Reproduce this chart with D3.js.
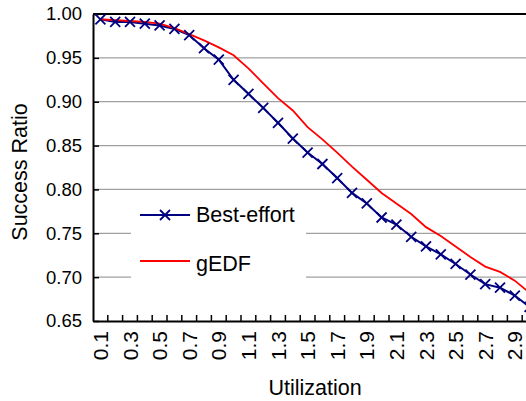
<!DOCTYPE html>
<html>
<head>
<meta charset="utf-8">
<script src="https://cdn.jsdelivr.net/npm/d3@7"></script>
<style>
  html, body { margin: 0; padding: 0; background: #fff; overflow: hidden; }
  svg { display: block; font-family: "Liberation Sans", Arial, sans-serif; }
</style>
</head>
<body>
<svg id="chart" width="526" height="401"></svg>
<script>
const categories = ["0.1","0.2","0.3","0.4","0.5","0.6","0.7","0.8","0.9","1.0",
  "1.1","1.2","1.3","1.4","1.5","1.6","1.7","1.8","1.9","2.0",
  "2.1","2.2","2.3","2.4","2.5","2.6","2.7","2.8","2.9","3.0"];
const xTickLabels = ["0.1","0.3","0.5","0.7","0.9","1.1","1.3","1.5","1.7","1.9","2.1","2.3","2.5","2.7","2.9"];
const yTicks = [0.65, 0.70, 0.75, 0.80, 0.85, 0.90, 0.95, 1.00];
const bestEffort = [0.994,0.991,0.991,0.989,0.987,0.983,0.976,0.961,0.948,0.925,
  0.909,0.893,0.876,0.858,0.842,0.829,0.813,0.796,0.784,0.768,
  0.760,0.746,0.735,0.726,0.715,0.703,0.692,0.688,0.679,0.666];
const gEDF = [0.994,0.993,0.992,0.991,0.989,0.984,0.977,0.970,0.962,0.953,
  0.938,0.921,0.904,0.890,0.871,0.857,0.842,0.826,0.811,0.796,
  0.784,0.772,0.757,0.747,0.735,0.723,0.712,0.706,0.696,0.682];
const seriesNames = ["Best-effort", "gEDF"];

(function () {
const svg = d3.select("#chart");
const pL = 93, pR = 537, pT = 14, pB = 321;

const x = d3.scaleBand().domain(categories).range([pL, pR]).padding(0);
const y = d3.scaleLinear().domain([0.65, 1.0]).range([pB, pT]);

// gridlines
svg.append("g").selectAll("line").data(yTicks.filter(v => v > 0.65 && v < 1.0)).join("line")
  .attr("x1", pL).attr("x2", pR)
  .attr("y1", d => y(d)).attr("y2", d => y(d))
  .attr("stroke", "#a0a0a0").attr("stroke-width", 1.2);

// legend background (drawn over gridlines)
svg.append("rect")
  .attr("x", 131).attr("y", 196).attr("width", 175).attr("height", 92)
  .attr("fill", "#fff");

// top border
svg.append("line").attr("x1", pL).attr("x2", pR).attr("y1", y(1.0)).attr("y2", y(1.0))
  .attr("stroke", "#000").attr("stroke-width", 2);

// y axis
const yAxis = d3.axisLeft(y).tickValues(yTicks).tickFormat(d3.format(".2f")).tickSizeInner(-6).tickSizeOuter(0).tickPadding(11);
const gy = svg.append("g").attr("transform", `translate(${pL},0)`).call(yAxis);
gy.select(".domain").attr("stroke", "#000").attr("stroke-width", 2);
gy.selectAll(".tick line").attr("stroke", "#000").attr("stroke-width", 1.5);
gy.selectAll(".tick text").attr("font-size", 18.5).attr("fill", "#000")
  .attr("font-family", "'Liberation Sans', Arial, sans-serif");

// x axis
const xAxis = d3.axisBottom(x).tickSize(0).tickFormat(d => xTickLabels.includes(d) ? d : "");
const gx = svg.append("g").attr("transform", `translate(0,${pB})`).call(xAxis);
gx.select(".domain").attr("stroke", "#000").attr("stroke-width", 2);
gx.selectAll(".tick text")
  .attr("font-size", 21).attr("fill", "#000")
  .attr("font-family", "'Liberation Sans', Arial, sans-serif")
  .attr("text-anchor", "end")
  .attr("transform", "rotate(-90)")
  .attr("x", -10).attr("y", 0).attr("dy", "0.36em");
// category boundary tick marks
svg.append("g").selectAll("line").data(categories.slice(1)).join("line")
  .attr("x1", d => x(d)).attr("x2", d => x(d))
  .attr("y1", pB).attr("y2", pB - 6)
  .attr("stroke", "#000").attr("stroke-width", 1.5);

// lines
const cx = (d, i) => x(categories[i]) + x.bandwidth() / 2;
const line = d3.line().x(cx).y(d => y(d));
svg.append("clipPath").attr("id", "plotclip").append("rect")
  .attr("x", pL).attr("y", 0).attr("width", pR - pL).attr("height", 401);
const plot = svg.append("g").attr("clip-path", "url(#plotclip)");
plot.append("path").datum(bestEffort).attr("d", line)
  .attr("fill", "none").attr("stroke", "#000080").attr("stroke-width", 2);
plot.append("path").datum(gEDF).attr("d", line)
  .attr("fill", "none").attr("stroke", "#ff0000").attr("stroke-width", 1.8);

function cross(g, px, py) {
  const s = 5;
  g.append("path").attr("d", `M${px - s},${py - s}L${px + s},${py + s}M${px - s},${py + s}L${px + s},${py - s}`)
    .attr("stroke", "#000080").attr("stroke-width", 1.8).attr("fill", "none");
}
bestEffort.forEach((v, i) => cross(plot, cx(v, i), y(v)));

// legend
const lg = svg.append("g");
lg.append("line").attr("x1", 140).attr("x2", 190).attr("y1", 215).attr("y2", 215)
  .attr("stroke", "#000080").attr("stroke-width", 2);
cross(lg, 165, 215);
lg.append("text").attr("x", 196).attr("y", 222).attr("font-size", 21.5).attr("fill", "#000").text(seriesNames[0]);
lg.append("line").attr("x1", 140).attr("x2", 190).attr("y1", 261).attr("y2", 261)
  .attr("stroke", "#ff0000").attr("stroke-width", 1.8);
lg.append("text").attr("x", 196).attr("y", 271).attr("font-size", 21.5).attr("fill", "#000").text(seriesNames[1]);

// axis titles
svg.append("text").attr("transform", `translate(27,172) rotate(-90)`)
  .attr("text-anchor", "middle").attr("font-size", 21.5).attr("fill", "#000").text("Success Ratio");
svg.append("text").attr("x", (pL + pR) / 2).attr("y", 395)
  .attr("text-anchor", "middle").attr("font-size", 21.5).attr("fill", "#000").text("Utilization");
})();
</script>
</body>
</html>
